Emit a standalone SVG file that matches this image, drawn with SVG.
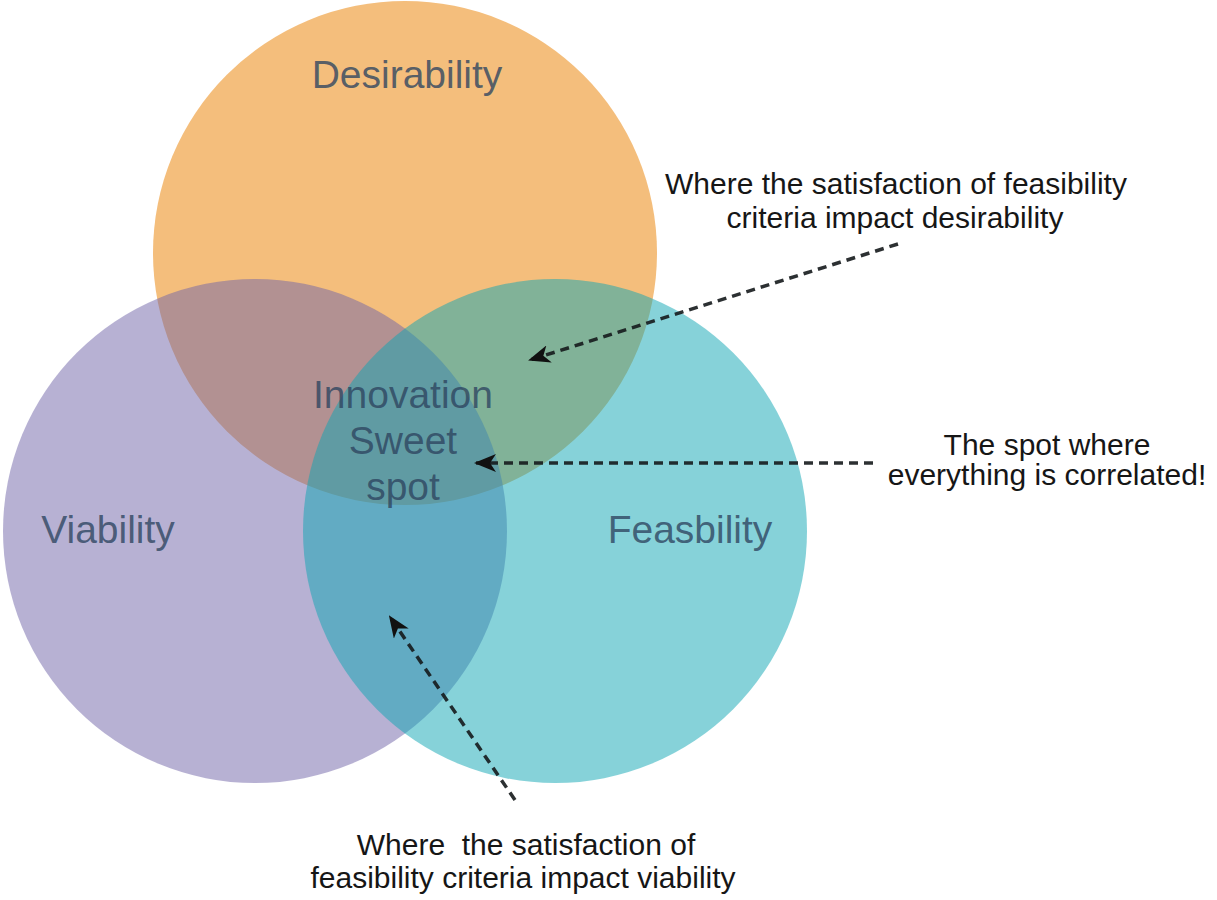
<svg xmlns="http://www.w3.org/2000/svg" width="1217" height="900" viewBox="0 0 1217 900">
  <style>
    .lbl { font-family: "Liberation Sans", Arial, sans-serif; font-size: 39px; fill: #2E4560; fill-opacity: 0.8; text-anchor: middle; }
    .note { font-family: "Liberation Sans", Arial, sans-serif; font-size: 30px; fill: #161616; text-anchor: middle; }
    .conn { fill: none; stroke: #15191c; stroke-width: 3.5; stroke-dasharray: 9 6; stroke-opacity: 0.9; }
  </style>
  <defs>
    <marker id="arrow" viewBox="0 0 22 18" refX="20" refY="9" markerWidth="22" markerHeight="18" markerUnits="userSpaceOnUse" orient="auto">
      <path d="M0,0 L22,9 L0,18 L6,9 Z" fill="#111"/>
    </marker>
  </defs>
  <rect width="1217" height="900" fill="#ffffff"/>

  <g id="desirability">
    <circle cx="405" cy="253" r="252" fill="#F4BE7C"/>
  </g>
  <g id="viability">
    <circle cx="255" cy="531" r="252" fill="#6F63A7" fill-opacity="0.5"/>
  </g>
  <g id="feasibility">
    <circle cx="555" cy="531" r="252" fill="#0DA5B3" fill-opacity="0.5"/>
  </g>

  <g id="labels">
    <text class="lbl" x="407" y="88">Desirability</text>
    <text class="lbl" x="108" y="543">Viability</text>
    <text class="lbl" x="690" y="543">Feasbility</text>
  </g>
  <g id="sweet-spot">
    <text class="lbl" x="403" y="408">Innovation</text>
    <text class="lbl" x="403" y="454">Sweet</text>
    <text class="lbl" x="403" y="500">spot</text>
  </g>

  <g id="connectors">
    <line class="conn" x1="898" y1="244" x2="530" y2="360" marker-end="url(#arrow)"/>
    <line class="conn" x1="873" y1="463" x2="476" y2="463" marker-end="url(#arrow)"/>
    <line class="conn" x1="515" y1="800" x2="390" y2="617" marker-end="url(#arrow)"/>
  </g>

  <g id="note-desirability">
    <text class="note" x="896" y="194">Where the satisfaction of feasibility</text>
    <text class="note" x="895" y="228">criteria impact desirability</text>
  </g>
  <g id="note-sweet-spot">
    <text class="note" x="1047" y="455">The spot where</text>
    <text class="note" x="1047" y="485">everything is correlated!</text>
  </g>
  <g id="note-viability">
    <text class="note" x="526" y="855" xml:space="preserve">Where  the satisfaction of</text>
    <text class="note" x="523" y="888">feasibility criteria impact viability</text>
  </g>
</svg>
